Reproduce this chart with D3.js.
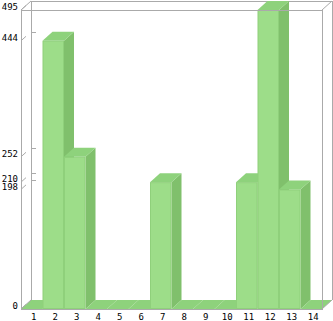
<!DOCTYPE html>
<html>
<head>
<meta charset="utf-8">
<script src="https://cdn.jsdelivr.net/npm/d3@7"></script>
<style>
  body { margin: 0; background: #fff; }
  text { font-family: "DejaVu Sans Mono", monospace; font-size: 9px; fill: #000; }
</style>
</head>
<body>
<div id="chart"></div>
<script>
// chart data
var categories = ["1", "2", "3", "4", "5", "6", "7", "8", "9", "10", "11", "12", "13", "14"];
var values = [0, 444, 252, 0, 0, 0, 210, 0, 0, 0, 210, 495, 198, 0];
var tickValues = [0, 198, 210, 252, 444, 495];

function drawChart() {
  var svgWidth = 333;
  var svgHeight = 321;

  // front plane box and depth offset
  var plotLeft = 21, plotRight = 322, plotTop = 10, plotBottom = 309;
  var dx = 10, dy = -9;

  var svg = d3.select("#chart")
    .append("svg")
    .attr("width", svgWidth)
    .attr("height", svgHeight);

  var xScale = d3.scaleBand()
    .domain(categories)
    .range([plotLeft, plotRight])
    .padding(0);

  var yScale = d3.scaleLinear()
    .domain([0, 495])
    .range([plotBottom, plotTop]);

  var frame = svg.append("g")
    .attr("stroke", "#aaaaaa")
    .attr("fill", "none")
    .attr("shape-rendering", "crispEdges");

  function line(x1, y1, x2, y2, g) {
    (g || frame).append("line")
      .attr("x1", x1).attr("y1", y1)
      .attr("x2", x2).attr("y2", y2);
  }

  // back wall
  line(plotLeft + dx + 0.5, plotTop + dy + 0.5, plotLeft + dx + 0.5, plotBottom + dy);
  line(plotLeft + dx, plotTop + dy + 0.5, plotRight + dx, plotTop + dy + 0.5);
  line(plotRight + dx + 0.5, plotTop + dy, plotRight + dx + 0.5, plotBottom + dy);

  // back wall tick dashes
  tickValues.forEach(function(v) {
    var y = Math.round(yScale(v) + dy) + 0.5;
    line(plotLeft + dx, y, plotLeft + dx + 5, y);
  });

  // slanted ticks at front axis
  var slant = svg.append("g").attr("stroke", "#aaaaaa");
  tickValues.forEach(function(v) {
    var y = yScale(v);
    slant.append("line")
      .attr("x1", plotLeft).attr("y1", y)
      .attr("x2", plotLeft + 5).attr("y2", y - 4.5);
  });

  // bars, painted left to right
  var bars = svg.append("g");
  categories.forEach(function(c, i) {
    var x0 = xScale(c);
    var x1 = x0 + xScale.bandwidth();
    var y0 = yScale(0);
    var y1 = yScale(values[i]);
    var g = bars.append("g");
    // side
    g.append("polygon")
      .attr("points", [[x1, y1], [x1 + dx, y1 + dy], [x1 + dx, y0 + dy], [x1, y0]].join(" "))
      .attr("fill", "#80c06c");
    // top
    g.append("polygon")
      .attr("points", [[x0, y1], [x0 + dx, y1 + dy], [x1 + dx, y1 + dy], [x1, y1]].join(" "))
      .attr("fill", "#8ed27c");
    // front
    if (values[i] > 0) {
      g.append("rect")
        .attr("x", x0 + 0.5)
        .attr("y", y1 + 0.5)
        .attr("width", x1 - x0 - 1)
        .attr("height", y0 - y1 - 1)
        .attr("fill", "#9ddd89")
        .attr("stroke", "#8fd07b")
        .attr("stroke-width", 1);
    }
  });

  // front frame lines
  var front = svg.append("g")
    .attr("stroke", "#aaaaaa")
    .attr("fill", "none")
    .attr("shape-rendering", "crispEdges");
  line(plotLeft + 0.5, plotTop, plotLeft + 0.5, plotBottom + 1, front);
  line(plotLeft, plotTop + 0.5, plotRight, plotTop + 0.5, front);
  line(plotRight + 0.5, plotTop, plotRight + 0.5, plotBottom + 1, front);
  line(plotLeft, plotBottom + 0.5, plotRight, plotBottom + 0.5, front);
  var diag = svg.append("g").attr("stroke", "#aaaaaa");
  line(plotLeft, plotTop, plotLeft + dx, plotTop + dy, diag);
  line(plotRight, plotTop, plotRight + dx, plotTop + dy, diag);
  line(plotRight, plotBottom, plotRight + dx, plotBottom + dy, diag);
  line(plotLeft, plotBottom, plotLeft + dx, plotBottom + dy, diag);

  // y labels
  svg.append("g").selectAll("text")
    .data(tickValues)
    .enter()
    .append("text")
    .attr("x", 18)
    .attr("y", d => yScale(d) - 3)
    .attr("dy", "0.35em")
    .attr("text-anchor", "end")
    .text(d => d);

  // x labels
  svg.append("g").selectAll("text")
    .data(categories)
    .enter()
    .append("text")
    .attr("x", d => xScale(d) + xScale.bandwidth() / 2 + 2)
    .attr("y", 320)
    .attr("text-anchor", "middle")
    .text(d => d);
}

drawChart();
</script>
</body>
</html>
